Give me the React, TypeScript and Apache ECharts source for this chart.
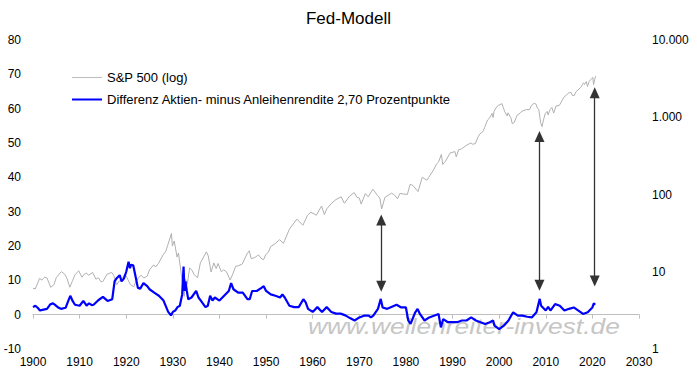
import React, { useEffect, useRef } from "react";
import * as echarts from "echarts";

const titleText = "Fed-Modell";
const spName = "S&P 500 (log)";
const diffName = "Differenz Aktien- minus Anleihenrendite 2,70 Prozentpunkte";
const watermark = "www.wellenreiter-invest.de";

// S&P 500 (right axis, log)
const spData: [number, number][] = [
  [1900.0, 6.1], [1900.5, 6.0], [1901.0, 7.1], [1901.4, 8.2], [1901.9, 7.8], [1902.5, 8.5], [1903.0, 8.3],
  [1903.8, 6.3], [1904.5, 6.8], [1905.0, 8.4], [1905.8, 9.6], [1906.1, 10.0], [1906.8, 9.3], [1907.3, 8.2],
  [1907.9, 6.3], [1908.5, 7.7], [1909.0, 9.1], [1909.8, 10.3], [1910.5, 8.5], [1911.0, 9.3], [1911.5, 9.6],
  [1911.9, 9.0], [1912.8, 9.8], [1913.5, 8.0], [1914.0, 8.4], [1914.6, 7.4], [1915.0, 7.5], [1915.9, 9.3],
  [1916.9, 9.8], [1917.3, 9.0], [1917.95, 6.8], [1918.5, 7.6], [1919.0, 7.9], [1919.6, 9.2], [1920.0, 8.8],
  [1920.9, 6.8], [1921.6, 6.4], [1922.0, 7.3], [1922.8, 8.6], [1923.2, 9.0], [1923.8, 8.3], [1924.5, 8.8],
  [1925.0, 10.6], [1925.9, 12.3], [1926.3, 11.5], [1926.9, 12.8], [1927.9, 16.5], [1928.5, 18.5], [1928.9, 22.0],
  [1929.7, 31.3], [1929.9, 21.5], [1930.3, 25.0], [1930.9, 15.5], [1931.2, 17.5], [1931.9, 8.5], [1932.45, 4.8],
  [1932.7, 8.0], [1933.1, 6.9], [1933.6, 11.2], [1934.1, 10.5], [1934.6, 9.1], [1935.3, 8.4], [1935.9, 13.0],
  [1937.2, 18.1], [1937.6, 16.0], [1938.2, 9.9], [1938.8, 13.0], [1939.3, 11.0], [1939.7, 12.8], [1940.4, 10.0],
  [1940.9, 10.6], [1941.5, 10.0], [1942.3, 7.8], [1942.9, 9.5], [1943.5, 11.8], [1944.0, 11.9], [1944.9, 12.6],
  [1945.9, 17.0], [1946.4, 18.7], [1946.8, 14.8], [1947.5, 15.2], [1948.4, 16.5], [1948.9, 15.0], [1949.45, 14.3],
  [1949.9, 16.5], [1950.5, 18.0], [1951.0, 21.2], [1951.9, 23.0], [1952.9, 26.0], [1953.7, 23.3], [1954.0, 25.5],
  [1955.0, 35.6], [1956.6, 48.0], [1957.0, 45.4], [1957.9, 40.0], [1958.9, 54.0], [1959.6, 59.0], [1960.8, 54.0],
  [1961.9, 71.0], [1962.5, 55.0], [1963.0, 65.0], [1964.0, 76.5], [1965.0, 86.1], [1966.1, 93.3], [1966.8, 77.0],
  [1967.9, 95.0], [1968.9, 106.0], [1969.5, 92.0], [1970.0, 90.3], [1970.4, 75.0], [1971.3, 103.0], [1971.9, 93.0],
  [1972.9, 117.0], [1973.5, 105.0], [1973.9, 97.0], [1974.4, 90.0], [1974.8, 65.0], [1975.5, 92.0], [1976.9, 104.0],
  [1977.5, 99.0], [1978.2, 88.0], [1978.7, 103.0], [1979.8, 101.0], [1980.3, 100.0], [1980.9, 135.0], [1981.5, 131.0],
  [1982.6, 109.0], [1983.5, 167.0], [1984.5, 153.0], [1984.9, 167.0], [1985.9, 207.0], [1986.6, 250.0], [1987.0, 264.0],
  [1987.6, 330.0], [1987.9, 245.0], [1988.5, 270.0], [1989.5, 346.0], [1989.9, 350.0], [1990.5, 360.0], [1990.8, 307.0],
  [1991.3, 380.0], [1991.9, 388.0], [1992.9, 430.0], [1993.9, 465.0], [1994.3, 448.0], [1994.9, 455.0], [1995.5, 560.0],
  [1995.9, 610.0], [1996.5, 650.0], [1996.9, 740.0], [1997.5, 920.0], [1997.9, 970.0], [1998.5, 1120.0], [1998.7, 990.0],
  [1998.9, 1190.0], [1999.5, 1370.0], [1999.9, 1430.0], [2000.6, 1500.0], [2000.9, 1330.0], [2001.2, 1180.0],
  [2001.7, 1040.0], [2001.9, 1140.0], [2002.5, 990.0], [2002.8, 830.0], [2003.2, 850.0], [2003.9, 1070.0],
  [2004.5, 1130.0], [2004.9, 1200.0], [2005.9, 1260.0], [2006.5, 1250.0], [2006.9, 1410.0], [2007.5, 1520.0],
  [2007.9, 1480.0], [2008.2, 1320.0], [2008.5, 1260.0], [2008.9, 850.0], [2009.2, 757.0], [2009.5, 920.0],
  [2009.9, 1120.0], [2010.3, 1190.0], [2010.5, 1070.0], [2010.9, 1250.0], [2011.3, 1340.0], [2011.7, 1130.0],
  [2012.2, 1400.0], [2012.9, 1420.0], [2013.5, 1650.0], [2013.9, 1820.0], [2014.5, 1960.0], [2014.9, 2060.0],
  [2015.4, 2100.0], [2015.7, 1920.0], [2016.1, 1900.0], [2016.5, 2150.0], [2016.9, 2250.0], [2017.5, 2430.0],
  [2017.9, 2680.0], [2018.1, 2790.0], [2018.3, 2650.0], [2018.7, 2900.0], [2018.95, 2500.0], [2019.3, 2900.0],
  [2019.9, 3200.0], [2020.1, 3280.0], [2020.25, 2650.0], [2020.5, 3100.0], [2020.7, 3400.0],
];

// Difference earnings yield minus bond yield (left axis)
const diffData: [number, number][] = [
  [1900.0, 2.2], [1900.5, 2.6], [1901.0, 2.0], [1901.5, 1.2], [1902.0, 1.4], [1903.0, 1.7], [1903.7, 3.0],
  [1904.3, 3.3], [1904.8, 2.8], [1905.5, 2.0], [1906.0, 1.7], [1907.0, 2.0], [1907.5, 3.8], [1908.0, 5.5],
  [1908.5, 4.0], [1909.0, 2.9], [1910.0, 2.6], [1910.8, 4.0], [1911.5, 2.6], [1912.0, 3.3], [1912.6, 2.8],
  [1913.0, 2.9], [1914.0, 4.2], [1915.0, 5.2], [1916.0, 4.0], [1917.0, 4.5], [1917.5, 9.7], [1918.0, 10.7],
  [1918.6, 11.5], [1919.0, 9.7], [1919.5, 10.5], [1920.0, 12.5], [1920.5, 15.4], [1920.8, 13.5], [1921.0, 14.5],
  [1921.5, 14.4], [1922.0, 11.1], [1922.5, 7.8], [1923.0, 7.6], [1923.7, 9.2], [1924.5, 8.3], [1925.0, 7.4],
  [1926.0, 6.4], [1927.0, 5.5], [1928.0, 4.1], [1929.0, 0.8], [1929.6, -0.2], [1930.0, 0.8], [1930.5, 1.2],
  [1931.0, 2.2], [1931.5, 2.6], [1932.0, 5.9], [1932.3, 14.0], [1932.5, 6.9], [1932.7, 9.7], [1933.0, 6.9],
  [1933.3, 4.5], [1934.0, 5.0], [1935.0, 6.9], [1935.5, 5.0], [1936.0, 4.1], [1937.0, 2.2], [1937.5, 2.6],
  [1938.0, 5.5], [1938.5, 4.1], [1939.0, 5.0], [1940.0, 4.1], [1941.0, 5.5], [1942.0, 6.9], [1942.5, 9.2],
  [1943.0, 7.4], [1944.0, 6.4], [1945.0, 6.4], [1946.0, 4.5], [1946.5, 4.5], [1947.0, 6.9], [1948.0, 6.9],
  [1949.0, 7.8], [1949.5, 8.3], [1950.0, 6.9], [1951.0, 5.9], [1952.0, 5.5], [1953.0, 5.0], [1953.5, 5.9],
  [1954.0, 5.0], [1955.0, 2.6], [1956.0, 2.2], [1957.0, 2.2], [1958.0, 4.5], [1958.5, 3.6], [1959.0, 1.7],
  [1960.0, 0.8], [1961.0, 2.2], [1962.0, 0.8], [1963.0, 2.2], [1964.0, 0.8], [1965.0, 0.3], [1966.0, 0.3],
  [1967.0, -0.2], [1968.0, -1.0], [1969.0, -1.7], [1970.0, -0.8], [1971.0, -0.3], [1972.0, -0.3], [1972.5, -0.8],
  [1973.0, -0.3], [1974.0, 1.7], [1974.6, 4.6], [1975.0, 2.1], [1976.0, 1.7], [1977.0, 2.3], [1978.0, 2.9],
  [1979.0, 2.1], [1980.0, 2.1], [1980.5, -1.7], [1981.0, -2.7], [1982.0, 0.7], [1982.5, 1.7], [1983.0, 0.2],
  [1984.0, -1.7], [1985.0, -0.8], [1986.0, -0.3], [1987.0, 0.2], [1987.5, -3.7], [1988.0, -1.3], [1989.0, -2.2],
  [1990.0, -2.2], [1991.0, -2.2], [1992.0, -1.7], [1993.0, -1.7], [1994.0, -0.8], [1995.0, -1.7], [1996.0, -2.2],
  [1997.0, -2.7], [1998.0, -2.2], [1998.7, -1.7], [1999.0, -3.2], [2000.0, -4.2], [2001.0, -3.2], [2002.0, -1.7],
  [2003.0, 0.7], [2004.0, -0.3], [2005.0, -0.3], [2006.0, -0.6], [2007.0, -0.8], [2008.0, 0.7], [2008.7, 4.6],
  [2009.0, 2.6], [2010.0, 1.2], [2010.5, 2.3], [2011.0, 1.2], [2012.0, 3.1], [2013.0, 2.6], [2014.0, 1.2],
  [2015.0, 1.7], [2016.0, 2.1], [2017.0, 1.2], [2018.0, 0.2], [2019.0, 0.7], [2020.0, 2.1], [2020.3, 3.3],
  [2020.6, 2.9],
];

// Arrows: year, upper end, lower end (left axis units)
const arrowYears = [1974.7, 2008.65, 2020.5];
const arrowTops = [27.6, 51.9, 64.6];
const arrowBottoms = [8.3, 8.6, 9.8];

const xTicks = { min: 1900, max: 2030, interval: 10 };
const leftTicks = { min: -10, max: 80, interval: 10 };
const rightTicks = { min: 1, max: 10000 };

const FONT = "'Liberation Sans', Arial, sans-serif";

export default function App() {
  const ref = useRef<HTMLDivElement>(null);
  useEffect(() => {
    if (!ref.current) return;
    document.body.style.margin = "0";
    const chart = echarts.init(ref.current, undefined, { renderer: "svg" });
    const fmtThousands = (v: number) =>
      String(Math.round(v)).replace(/\B(?=(\d{3})+(?!\d))/g, ".");
    chart.setOption({
      animation: false,
      backgroundColor: "#ffffff",
      textStyle: { fontFamily: FONT },
      title: {
        text: titleText,
        left: "center",
        top: 5,
        textStyle: { fontSize: 17, fontWeight: "normal", color: "#000", fontFamily: FONT },
      },
      legend: {
        orient: "vertical",
        left: 72,
        top: 71,
        padding: 0,
        itemWidth: 30,
        itemHeight: 14,
        itemGap: 9,
        symbolKeepAspect: true,
        data: [
          { name: spName, icon: "path://M0,0 L30,0 L30,1.1 L0,1.1 Z", itemStyle: { color: "#c0c0c0", borderWidth: 0 } },
          { name: diffName, icon: "path://M0,0 L30,0 L30,2 L0,2 Z", itemStyle: { color: "#0000ff", borderWidth: 0 } },
        ],
        textStyle: { fontSize: 13, color: "#000", fontFamily: FONT },
      },
      grid: { left: 33, right: 58, top: 40, bottom: 30, containLabel: false },
      xAxis: {
        type: "value",
        min: xTicks.min,
        max: xTicks.max,
        interval: xTicks.interval,
        axisLine: { show: true, lineStyle: { color: "#bfbfbf", width: 1 } },
        axisTick: { show: true, length: 4, lineStyle: { color: "#bfbfbf" } },
        splitLine: { show: false },
        axisLabel: {
          fontSize: 12,
          color: "#000",
          margin: 7,
          fontFamily: FONT,
          formatter: (v: number) => String(v),
        },
      },
      yAxis: [
        {
          type: "value",
          min: leftTicks.min,
          max: leftTicks.max,
          interval: leftTicks.interval,
          axisLine: { show: false },
          axisTick: { show: false },
          splitLine: { show: false },
          axisLabel: { fontSize: 12, color: "#000", margin: 12, fontFamily: FONT },
        },
        {
          type: "log",
          logBase: 10,
          min: rightTicks.min,
          max: rightTicks.max,
          position: "right",
          axisLine: { show: false },
          axisTick: { show: false },
          splitLine: { show: false },
          minorTick: { show: false },
          axisLabel: {
            fontSize: 12,
            color: "#000",
            margin: 13,
            fontFamily: FONT,
            formatter: (v: number) => fmtThousands(v),
          },
        },
      ],
      graphic: {
        elements: [
          {
            type: "text",
            x: 308,
            y: 326,
            scaleX: 1.2,
            z: -10,
            silent: true,
            style: {
              text: watermark,
              fill: "#c6c6c6",
              fontSize: 22,
              fontStyle: "italic",
              fontFamily: FONT,
              verticalAlign: "middle",
              align: "left",
            },
          },
        ],
      },
      series: [
        {
          name: spName,
          type: "line",
          yAxisIndex: 1,
          data: spData,
          symbol: "none",
          showSymbol: false,
          z: 3,
          lineStyle: { color: "#b0b0b0", width: 1 },
          itemStyle: { color: "#b0b0b0" },
        },
        {
          name: diffName,
          type: "line",
          yAxisIndex: 0,
          data: diffData,
          symbol: "none",
          showSymbol: false,
          z: 4,
          lineStyle: { color: "#0000ff", width: 2.2 },
          itemStyle: { color: "#0000ff" },
          markLine: {
            silent: true,
            symbol: ["triangle", "triangle"],
            symbolSize: [10, 11],
            label: { show: false },
            lineStyle: { color: "#333333", width: 1.3, type: "solid" },
            emphasis: { disabled: true },
            data: arrowYears.map((yr, i) => [
              { coord: [yr, arrowTops[i]] },
              { coord: [yr, arrowBottoms[i]] },
            ]),
          },
        },
      ],
    });
    return () => chart.dispose();
  }, []);
  return <div ref={ref} style={{ width: 697, height: 379 }} />;
}
